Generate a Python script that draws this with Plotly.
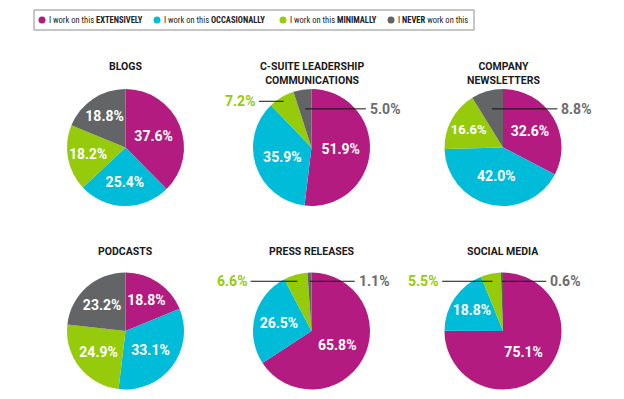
import math
import plotly.graph_objects as go

# ---------------- data ----------------
chart_titles = ["BLOGS", "C-SUITE LEADERSHIP<br>COMMUNICATIONS", "COMPANY<br>NEWSLETTERS",
                "PODCASTS", "PRESS RELEASES", "SOCIAL MEDIA"]
categories = ["I work on this <b>EXTENSIVELY</b>", "I work on this <b>OCCASIONALLY</b>",
              "I work on this <b>MINIMALLY</b>", "I <b>NEVER</b> work on this"]
extensively = [37.6, 51.9, 32.6, 18.8, 65.8, 75.1]
occasionally = [25.4, 35.9, 42.0, 33.1, 26.5, 18.8]
minimally = [18.2, 7.2, 16.6, 24.9, 6.6, 5.5]
never = [18.8, 5.0, 8.8, 23.2, 1.1, 0.6]

# ---------------- style / layout ----------------
W, H = 624, 399
colors = ["#b31b81", "#00bcd9", "#96cb0b", "#636466"]
label_colors = ["#b31b81", "#00bcd9", "#96cb0b", "#6b6c6f"]
centers = [(125.5, 147.5), (311.5, 147.5), (503, 147.5),
           (125.5, 331), (311.5, 331), (503, 331)]
R = 58.5
title_top = [58, 58, 58, 243, 243, 243]
outside_threshold = 9.0
leader_h = [{2: 0.79, 3: 0.66}] * 3 + [{2: 0.85, 3: 0.85}] * 3
leader_out = [{2: 0.90, 3: 0.93}] * 3 + [{2: 1.04, 3: 0.74}] * 3
FONT = "Roboto"
NARROW = "Liberation Sans Narrow, Roboto Condensed, DejaVu Sans Condensed, Roboto"
legend_box = (34, 10, 474, 30)          # x0, y0, x1, y1 in px
legend_marker_x = [42, 157, 283, 391]
legend_y = 20


def px(x):
    return x / W


def py(y):
    return 1 - y / H


fig = go.Figure()
annotations = []
shapes = []

series = [extensively, occasionally, minimally, never]
for i, title in enumerate(chart_titles):
    vals = [s[i] for s in series]
    cx, cy = centers[i]
    texts = [("" if v < outside_threshold else f"{v:.1f}%") for v in vals]
    fig.add_trace(go.Pie(
        labels=categories, values=vals, text=texts, texttemplate="%{text}",
        sort=False, direction="clockwise", rotation=0,
        marker=dict(colors=colors, line=dict(width=0)),
        textposition="inside", insidetextorientation="horizontal",
        insidetextfont=dict(family=FONT, size=14, color="white", weight="bold"),
        domain=dict(x=[px(cx - R), px(cx + R)], y=[py(cy + R), py(cy - R)]),
        showlegend=False, hoverinfo="label+value",
    ))
    annotations.append(dict(
        text=f"<b>{title}</b>", x=px(cx), y=py(title_top[i]), xref="paper", yref="paper",
        xanchor="center", yanchor="top", showarrow=False,
        font=dict(family=FONT, size=10.5, color="#1a1a1a"),
    ))
    total = sum(vals)
    cum = 0.0
    for k, v in enumerate(vals):
        a = 2 * math.pi * (cum + v / 2) / total
        cum += v
        if v >= outside_threshold:
            continue
        h = leader_h[i][k] * R
        y = cy - h
        x_in = cx + h * math.tan(a)
        side = 1 if k == 3 else -1
        x_out = cx + side * leader_out[i][k] * R
        shapes.append(dict(type="line", xref="paper", yref="paper",
                           x0=px(x_in), x1=px(x_out), y0=py(y), y1=py(y),
                           line=dict(color="#111111", width=1)))
        annotations.append(dict(
            text=f"<b>{v:.1f}%</b>", xref="paper", yref="paper",
            x=px(x_out + side * 2), y=py(y),
            xanchor="left" if side > 0 else "right", yanchor="middle", showarrow=False,
            font=dict(family=FONT, size=14, color=label_colors[k]),
        ))

# legend (drawn manually to match the compact boxed legend)
bx0, by0, bx1, by1 = legend_box
shapes.append(dict(type="rect", xref="paper", yref="paper",
                   x0=px(bx0), x1=px(bx1), y0=py(by1), y1=py(by0),
                   line=dict(color="#8c8c8c", width=1), fillcolor="white"))
for cat, col, mx in zip(categories, colors, legend_marker_x):
    shapes.append(dict(type="circle", xref="paper", yref="paper",
                       x0=px(mx - 3.5), x1=px(mx + 3.5), y0=py(legend_y + 3.5), y1=py(legend_y - 3.5),
                       fillcolor=col, line=dict(width=0)))
    annotations.append(dict(
        text=cat, xref="paper", yref="paper", x=px(mx + 5), y=py(legend_y),
        xanchor="left", yanchor="middle", showarrow=False,
        font=dict(family=NARROW, size=8.5, color="#222222"),
    ))

fig.update_layout(
    width=W, height=H, margin=dict(l=0, r=0, t=0, b=0),
    paper_bgcolor="white", plot_bgcolor="white", showlegend=False,
    annotations=annotations, shapes=shapes,
)

fig.write_html("out.html", config={"displayModeBar": False},
               post_script="document.body.style.margin='0';")
